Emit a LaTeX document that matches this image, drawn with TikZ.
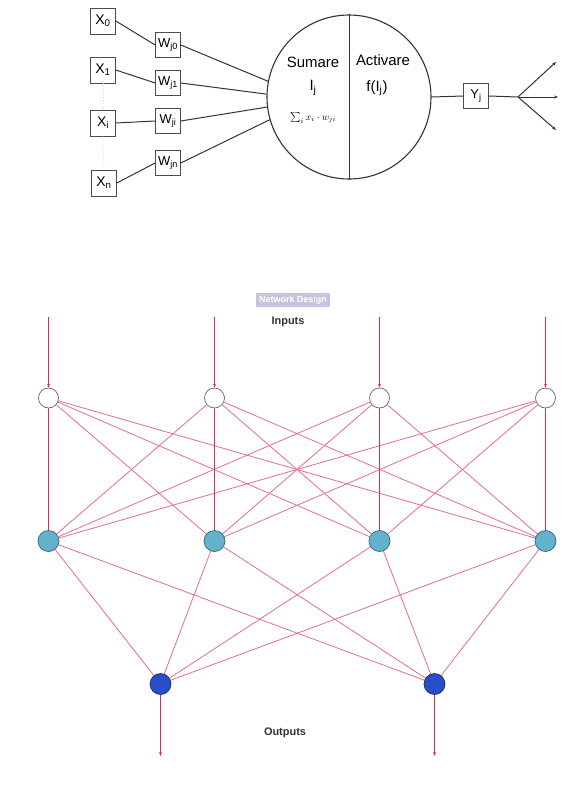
\documentclass[tikz,border=0pt]{standalone}
\usepackage{fontspec}
\setmainfont{Liberation Sans}
\usetikzlibrary{arrows.meta}
\pgfdeclarelayer{back}
\pgfdeclarelayer{edges}
\pgfsetlayers{back,edges,main}
\definecolor{edgec}{RGB}{228,110,140}
\definecolor{arrc}{RGB}{210,50,80}
\definecolor{hidc}{RGB}{98,178,204}
\definecolor{hidd}{RGB}{55,100,125}
\definecolor{outc}{RGB}{40,78,200}
\definecolor{outd}{RGB}{25,45,120}
\definecolor{lav}{RGB}{196,196,224}
\tikzset{
  inbox/.style={draw=black!70, line width=0.6pt, minimum width=25bp, minimum height=26bp, inner sep=1pt, font=\fontsize{14}{14}\selectfont},
  wbox/.style={draw=black!70, line width=0.6pt, minimum width=25bp, minimum height=25bp, inner sep=1pt, font=\fontsize{13}{13}\selectfont},
  wire/.style={line width=1pt, black!80},
  net/.style={edgec, line width=0.8pt},
  vnet/.style={arrc, line width=1pt},
  inarr/.style={arrc, line width=1pt, -{Stealth[length=4pt,width=3pt]}},
  innode/.style={circle, draw=black!60, fill=white, line width=0.7pt, minimum size=20bp, inner sep=0pt},
  hidnode/.style={circle, draw=hidd, fill=hidc, line width=0.7pt, minimum size=21bp, inner sep=0pt},
  outnode/.style={circle, draw=outd, fill=outc, line width=0.7pt, minimum size=21bp, inner sep=0pt},
  lbl/.style={font=\fontsize{15}{15}\selectfont, inner sep=0pt},
  head/.style={font=\bfseries\fontsize{11}{11}\selectfont, text=black!80, inner sep=0pt}
}
\begin{document}
\begin{tikzpicture}[x=1bp,y=-1bp]
\begin{pgfonlayer}{back}
\fill[white] (0,0) rectangle (572,792);
\end{pgfonlayer}
\useasboundingbox (0,0) rectangle (572,792);
% ---------- single neuron ----------
\node[inbox] (x0) at (103,21) {X\textsubscript{0}};
\node[inbox] (x1) at (103,70) {X\textsubscript{1}};
\node[inbox] (xi) at (103,123) {X\textsubscript{i}};
\node[inbox] (xn) at (104,183) {X\textsubscript{n}};
\node[wbox] (w0) at (168,45) {W\textsubscript{j0}};
\node[wbox] (w1) at (168,83) {W\textsubscript{j1}};
\node[wbox] (wi) at (168,121) {W\textsubscript{ji}};
\node[wbox] (wn) at (168,163) {W\textsubscript{jn}};
\node[circle, draw=black!80, line width=1.1pt, minimum size=164bp, inner sep=0pt] (neuron) at (349,97) {};
\draw[black!80, line width=0.8pt] (neuron.north) -- (neuron.south);
\node[lbl] (sumare) at (313,62) {Sumare};
\node[lbl] (activare) at (383,60) {Activare};
\node[lbl] (ij) at (313,88) {I\textsubscript{j}};
\node[lbl] (fij) at (377,88) {f(I\textsubscript{j})};
\node[inner sep=0pt, font=\normalsize] (sumf) at (313,118) {$\sum_i x_i\cdot w_{ji}$};
\node[wbox] (yj) at (476,96) {Y\textsubscript{j}};
\coordinate (br) at (518,97);
\coordinate (o1e) at (556,62);
\coordinate (o2e) at (558,97);
\coordinate (o3e) at (556,130);
\draw[black!15, dotted, line width=0.8pt] (x1.south) -- (xi.north);
\draw[black!15, dotted, line width=0.8pt] (xi.south) -- (xn.north);
\draw[wire] (x0.east) -- (w0.west);
\draw[wire] (x1.east) -- (w1.west);
\draw[wire] (xi.east) -- (wi.west);
\draw[wire] (xn.east) -- (wn.west);
\draw[wire] (w0.east) -- (neuron.169);
\draw[wire] (w1.east) -- (neuron.178);
\draw[wire] (wi.east) -- (neuron.187);
\draw[wire] (wn.east) -- (neuron.196);
\draw[wire] (neuron.east) -- (yj.west);
\draw[wire] (yj.east) -- (br);
\draw[wire, -{Stealth[length=4pt,width=3pt]}] (br) -- (o1e);
\draw[wire, -{Stealth[length=4pt,width=3pt]}] (br) -- (o2e);
\draw[wire, -{Stealth[length=4pt,width=3pt]}] (br) -- (o3e);
% ---------- network ----------
\node[fill=lav, text=white, font=\bfseries\fontsize{9}{9}\selectfont, inner xsep=3pt, inner ysep=3pt] (title) at (293,300) {Network Design};
\node[head] (inputs) at (288,322) {Inputs};
\node[head] (outputs) at (285,733) {Outputs};
\foreach \n/\x in {1/48.5,2/214.5,3/379.5,4/545.5}{
  \node[innode] (i\n) at (\x,398) {};
  \node[hidnode] (h\n) at (\x,541) {};
  \coordinate (s\n) at (\x,317);
}
\node[outnode] (o1) at (160.5,684) {};
\node[outnode] (o2) at (434.5,684) {};
\coordinate (e1) at (160.5,756);
\coordinate (e2) at (434.5,756);
\begin{pgfonlayer}{edges}
\foreach \a in {1,...,4}{
  \foreach \b in {1,...,4}{
    \ifnum\a=\b\else
    \draw[net] (i\a) -- (h\b);
    \fi
  }
  \foreach \c in {1,2}{
    \draw[net] (h\a) -- (o\c);
  }
}
\foreach \a in {1,...,4}{
  \draw[vnet] (i\a) -- (h\a);
}
\end{pgfonlayer}
\foreach \n in {1,...,4}{
  \draw[inarr] (s\n) -- (i\n.north);
}
\draw[inarr] (o1.south) -- (e1);
\draw[inarr] (o2.south) -- (e2);
\end{tikzpicture}
\end{document}
